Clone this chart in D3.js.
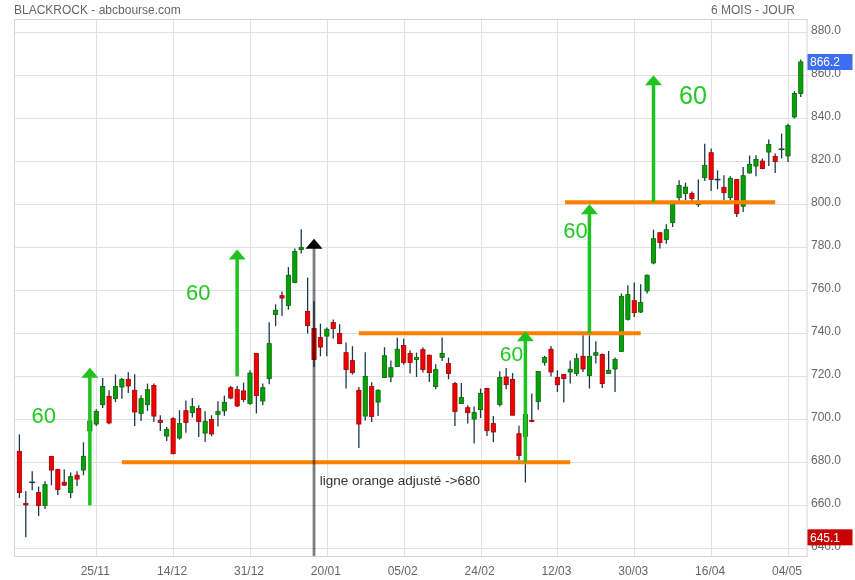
<!DOCTYPE html>
<html><head><meta charset="utf-8">
<script src="https://cdn.jsdelivr.net/npm/d3@7"></script>
<style>
body{margin:0;background:#fff;}
svg{display:block;font-family:"Liberation Sans",Arial,sans-serif;}
</style>
</head><body>
<svg id="c" width="855" height="580"></svg>
<script>
// ---- data ----
const opens  = [685.1,660.9,670.7,665.9,659.9,682.7,676.6,670.7,665.9,674.0,676.4,694.6,697.8,706.8,710.7,709.6,715.0,718.6,713.5,702.7,706.8,715.7,699.5,692.2,700.3,691.3,704.0,703.1,705.0,693.6,699.9,702.3,703.9,714.7,713.8,713.2,707.3,730.6,708.5,718.9,748.7,757.5,752.9,763.6,778.9,750.2,742.2,738.0,738.7,745.0,739.9,731.0,727.3,713.5,701.5,715.2,708.0,719.4,719.7,724.5,734.3,730.6,727.8,732.4,729.8,715.2,728.7,725.9,716.6,707.3,705.4,700.1,704.5,714.3,698.0,706.8,719.7,718.5,693.3,692.0,699.5,708.2,726.5,732.6,719.4,720.8,722.0,721.3,729.3,720.3,729.8,730.1,721.3,723.4,731.5,746.5,755.2,749.9,759.7,772.7,786.8,783.6,791.5,803.1,805.0,805.0,799.9,812.4,824.0,811.5,807.9,803.1,811.5,799.1,814.6,817.8,820.1,824.3,822.2,825.6,822.5,840.6,851.5];
const highs  = [693.0,666.7,675.8,668.7,671.2,683.0,677.0,676.7,675.3,675.8,689.3,700.5,704.7,719.2,713.5,720.9,719.2,721.9,720.9,711.2,716.6,716.6,701.9,696.4,700.9,704.2,708.8,709.9,706.5,703.7,701.9,708.4,711.0,715.5,715.5,717.1,722.8,730.8,716.6,745.1,753.5,759.5,770.8,779.4,788.4,765.9,754.9,744.5,742.7,746.4,744.2,735.7,734.0,715.0,731.2,717.2,714.0,733.5,727.4,738.1,737.5,732.1,731.0,733.4,730.1,725.6,738.1,728.7,717.3,716.9,706.5,706.0,714.3,714.6,701.5,722.3,723.9,721.5,697.0,707.6,712.0,722.5,729.5,734.1,722.8,721.0,727.4,730.6,739.1,739.1,736.3,730.6,731.8,728.7,758.5,762.3,763.6,762.8,767.3,788.2,787.0,790.7,801.7,811.2,810.1,806.0,811.5,828.2,825.9,815.8,813.5,813.0,811.8,817.3,822.7,822.8,821.3,830.1,823.6,832.9,837.5,852.6,867.4];
const lows   = [663.4,645.1,667.0,655.0,658.3,669.3,664.8,669.0,663.4,669.0,674.0,692.0,696.9,705.2,697.7,708.0,709.6,712.2,696.9,699.2,703.9,698.7,694.6,689.9,683.7,690.5,693.8,700.8,691.8,689.4,692.1,696.7,701.6,709.3,705.7,708.0,706.8,702.7,706.5,716.3,743.3,748.0,751.0,763.3,777.1,739.9,724.3,729.3,729.3,737.5,735.0,714.3,720.8,686.7,699.5,698.7,701.5,719.4,717.2,724.5,725.4,721.3,719.7,721.8,717.3,714.0,727.1,718.6,696.9,707.3,698.0,688.7,700.6,692.2,689.4,706.0,714.0,701.9,680.9,670.6,698.6,704.5,725.0,719.9,712.7,707.8,716.6,720.1,722.0,714.3,725.9,714.6,721.3,712.7,731.5,746.0,747.6,749.4,758.5,772.1,779.4,781.7,789.4,800.3,801.9,800.3,798.7,810.8,806.2,807.0,801.9,801.9,794.1,796.4,814.3,813.0,816.3,817.8,814.6,821.3,819.7,839.9,849.9];
const closes = [665.9,660.2,670.7,659.9,669.6,676.4,667.3,669.4,673.3,672.2,682.8,699.2,703.7,715.3,698.3,715.3,718.6,715.5,703.4,709.6,713.8,701.5,698.5,695.3,684.0,698.0,698.5,705.9,698.9,699.1,693.2,703.7,707.9,709.9,706.2,709.2,721.5,711.0,714.7,735.2,750.7,756.4,767.0,778.1,779.9,743.6,727.8,733.6,741.9,742.2,735.2,723.1,721.7,697.8,719.9,701.3,713.5,729.6,724.0,732.6,726.4,726.4,728.7,723.1,721.7,723.1,730.6,721.3,703.6,710.1,703.1,703.1,712.0,694.7,694.1,719.4,716.1,701.9,683.1,702.2,699.1,722.2,728.7,722.0,716.1,718.9,723.3,728.2,723.4,729.3,731.0,716.6,722.8,727.8,757.2,758.0,749.6,754.3,767.0,784.0,782.2,788.2,800.6,808.8,808.0,802.7,800.4,818.1,811.6,811.5,805.4,812.1,795.7,813.3,818.6,820.9,816.6,827.8,819.9,825.6,836.6,851.5,866.2];

const tickIdx    = [12,24,36,48,60,72,84,96,108,120];
const tickLabels = ["25/11","14/12","31/12","20/01","05/02","24/02","12/03","30/03","16/04","04/05"];
const yTicks     = [640,660,680,700,720,740,760,780,800,820,840,860,880];

const orangeLines = [{from:16,to:86,value:680},{from:53,to:97,value:740},{from:85.2,to:118,value:801}];
const arrows = [{at:11,from:660,to:724},{at:34,from:720,to:779},{at:79,from:680,to:741},{at:89,from:740,to:800},{at:99,from:801,to:860}];
const labels60 = [{at:1.9,value:698.3,size:22},{at:26,value:755.3,size:22},{at:75,value:727.1,size:21},{at:84.9,value:784.2,size:22},{at:103,value:846.8,size:25}];
const markerIdx = 46, markerTop = 784;
const noteText = "ligne orange adjusté ->680", noteAt = 46.9, noteValue = 669.3;
const lastPrice = 866.2, lowPrice = 645.1;
const title = "BLACKROCK - abcbourse.com", period = "6 MOIS - JOUR";

// ---- layout ----
const svg = d3.select("#c");
const L = 14.5, R = 807, T = 19, B = 556;
const n = opens.length;
const x = d3.scaleLinear().domain([0, n-1]).range([19.4, 800.8]);
const y = d3.scaleLinear().domain([640, 880]).range([548.3, 32.3]);

// grid
const g = svg.append("g");
g.selectAll(".hg").data(yTicks).join("line")
  .attr("x1",L).attr("x2",R).attr("y1",d=>Math.round(y(d))+0.5).attr("y2",d=>Math.round(y(d))+0.5)
  .attr("stroke","#e1e1e1").attr("stroke-width",1);
g.selectAll(".vg").data(tickIdx).join("line")
  .attr("x1",d=>Math.round(x(d))+0.5).attr("x2",d=>Math.round(x(d))+0.5).attr("y1",T).attr("y2",B)
  .attr("stroke","#e1e1e1").attr("stroke-width",1);
svg.append("rect").attr("x",L).attr("y",T+0.5).attr("width",R-L).attr("height",B-T)
  .attr("fill","none").attr("stroke","#d4d4d4");

// candles
const data = d3.range(n).map(i=>({i,o:opens[i],h:highs[i],l:lows[i],c:closes[i]}));
const cg = svg.append("g");
cg.selectAll(".w").data(data).join("line")
  .attr("x1",d=>x(d.i)).attr("x2",d=>x(d.i)).attr("y1",d=>y(d.h)).attr("y2",d=>y(d.l))
  .attr("stroke","#1b3a4e").attr("stroke-width",1.3);
cg.selectAll(".b").data(data.filter(d=>d.o!==d.c)).join("rect")
  .attr("x",d=>x(d.i)-2.1).attr("width",4.2)
  .attr("y",d=>y(Math.max(d.o,d.c)))
  .attr("height",d=>Math.max(1.2, Math.abs(y(d.o)-y(d.c))))
  .attr("fill",d=>d.c>d.o?"#04a004":"#f20000")
  .attr("stroke",d=>d.c>d.o?"#066a06":"#a00000").attr("stroke-width",0.8);
cg.selectAll(".dj").data(data.filter(d=>d.o===d.c)).join("line")
  .attr("x1",d=>x(d.i)-3).attr("x2",d=>x(d.i)+3).attr("y1",d=>y(d.c)).attr("y2",d=>y(d.c))
  .attr("stroke","#1b3a4e").attr("stroke-width",1.5);

// orange lines
svg.selectAll(".ol").data(orangeLines).join("line")
  .attr("x1",d=>x(d.from)).attr("x2",d=>x(d.to)).attr("y1",d=>y(d.value)).attr("y2",d=>y(d.value))
  .attr("stroke","#ff8000").attr("stroke-width",4);

// green arrows
const GREEN = "#1fc31f";
svg.selectAll(".as").data(arrows).join("line")
  .attr("x1",d=>x(d.at)).attr("x2",d=>x(d.at)).attr("y1",d=>y(d.from)).attr("y2",d=>y(d.to)+8)
  .attr("stroke",GREEN).attr("stroke-width",3.5);
svg.selectAll(".ah").data(arrows).join("path")
  .attr("d",d=>{const cx=x(d.at), ty=y(d.to); return `M${cx},${ty} L${cx+8.5},${ty+10} L${cx-8.5},${ty+10} Z`;})
  .attr("fill",GREEN);

// marker line + black arrow
svg.append("line").attr("x1",x(markerIdx)).attr("x2",x(markerIdx))
  .attr("y1",y(markerTop)+8).attr("y2",B)
  .attr("stroke","#7d7d7d").attr("stroke-width",2.8).style("mix-blend-mode","multiply");
svg.append("path").attr("d",()=>{const cx=x(markerIdx), ty=y(markerTop); return `M${cx},${ty} L${cx+8.5},${ty+10} L${cx-8.5},${ty+10} Z`;})
  .attr("fill","#000");

// "60" labels
svg.selectAll(".l60").data(labels60).join("text")
  .attr("x",d=>x(d.at)).attr("y",d=>y(d.value)).attr("font-size",d=>d.size)
  .attr("fill","#22c822").text("60");

svg.append("text").attr("x",x(noteAt)).attr("y",y(noteValue)).attr("font-size",13.5)
  .attr("fill","#333").text(noteText);

// right axis
svg.selectAll(".yl").data(yTicks).join("text")
  .attr("x",811).attr("y",d=>y(d)+1.5).attr("font-size",12).attr("fill","#666").text(d=>d3.format(".1f")(d));

// bottom axis
svg.selectAll(".xl").data(tickIdx).join("text")
  .attr("x",(d)=>x(d)-1).attr("y",575).attr("text-anchor","middle").attr("font-size",12).attr("fill","#666")
  .text((d,i)=>tickLabels[i]);

// header
svg.append("text").attr("x",14).attr("y",14).attr("font-size",12).attr("fill","#666").text(title);
svg.append("text").attr("x",795).attr("y",14).attr("text-anchor","end").attr("font-size",12).attr("fill","#666").text(period);

// price tags
function tag(v, col){
  svg.append("rect").attr("x",807.5).attr("y",y(v)-8).attr("width",45).attr("height",16).attr("fill",col);
  svg.append("text").attr("x",810).attr("y",y(v)+4.5).attr("font-size",12).attr("fill","#fff").text(d3.format(".1f")(v));
}
tag(lastPrice,"#3d6ef0");
tag(lowPrice,"#c80000");
</script>
</body></html>
